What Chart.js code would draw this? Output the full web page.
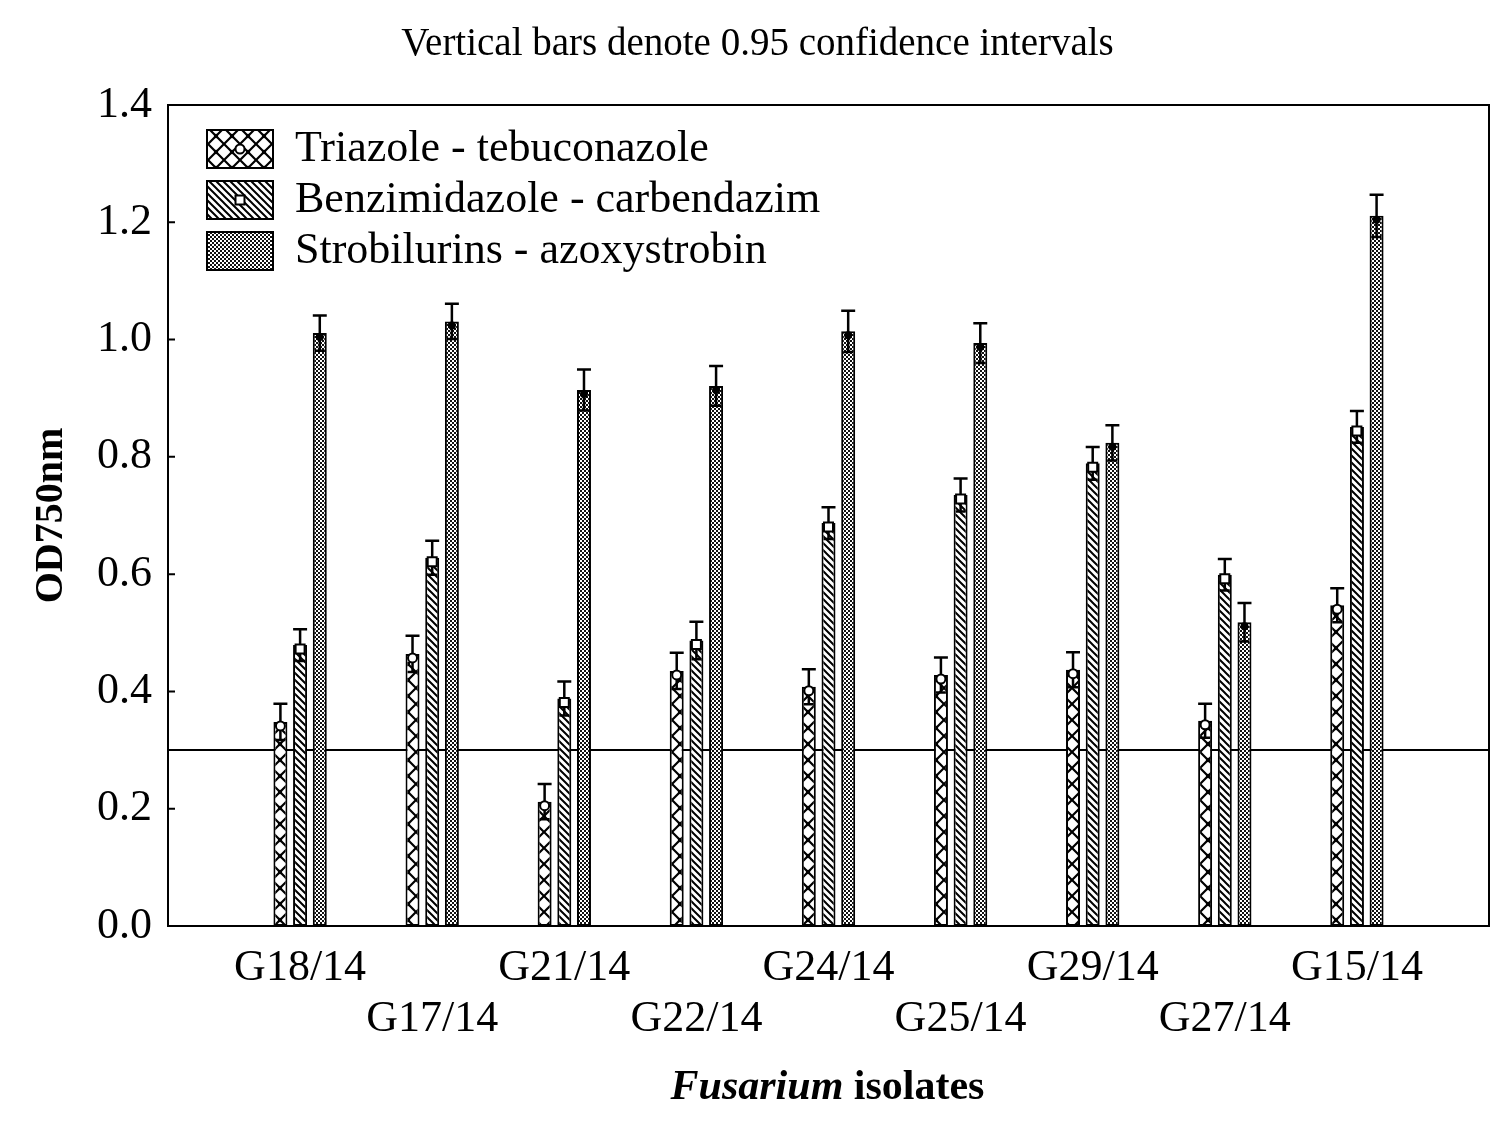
<!DOCTYPE html>
<html><head><meta charset="utf-8">
<script src="https://cdn.jsdelivr.net/npm/chart.js@4.4.0/dist/chart.umd.min.js"></script>
<style>html,body{margin:0;padding:0;background:#fff}#wrap{width:1500px;height:1132px;position:relative}</style>
</head><body><div id="wrap"><canvas id="c"></canvas></div>
<script>
const categories = ['G18/14','G17/14','G21/14','G22/14','G24/14','G25/14','G29/14','G27/14','G15/14'];
const seriesNames = ['Triazole - tebuconazole','Benzimidazole - carbendazim','Strobilurins - azoxystrobin'];
const triazole = [0.348,0.464,0.212,0.435,0.408,0.428,0.437,0.350,0.547];
const triazoleUpper = [0.379,0.495,0.242,0.466,0.438,0.458,0.467,0.379,0.576];
const benzimidazole = [0.479,0.628,0.388,0.487,0.687,0.735,0.789,0.599,0.851];
const benzimidazoleUpper = [0.506,0.657,0.417,0.519,0.714,0.763,0.817,0.626,0.878];
const strobilurins = [1.011,1.031,0.914,0.921,1.014,0.994,0.824,0.518,1.211];
const strobilurinsUpper = [1.041,1.061,0.949,0.955,1.049,1.028,0.854,0.551,1.247];
const yTicks = [0.0,0.2,0.4,0.6,0.8,1.0,1.2,1.4];
const threshold = 0.3;
const chartTitle = 'Vertical bars denote 0.95 confidence intervals';
const yTitle = 'OD750nm';
const xTitleItalic = 'Fusarium';
const xTitleRest = ' isolates';

const FONT = 'Liberation Serif';
const LEG = { dx: 39, dy: 24, box: 66, font: 44, pad: 7 };

function makePattern(size, draw) {
  const c = document.createElement('canvas');
  c.width = size; c.height = size;
  const g = c.getContext('2d');
  g.fillStyle = '#fff'; g.fillRect(0, 0, size, size);
  draw(g, size);
  return document.getElementById('c').getContext('2d').createPattern(c, 'repeat');
}
const patCross = makePattern(16, (g, s) => {
  g.strokeStyle = '#000'; g.lineWidth = 2.2;
  g.beginPath();
  g.moveTo(0, 0); g.lineTo(s, s);
  g.moveTo(s, 0); g.lineTo(0, s);
  g.stroke();
  g.fillStyle = '#000';
  g.beginPath(); g.arc(s / 2, s / 2, 2.2, 0, Math.PI * 2); g.fill();
});
const patDiag = makePattern(7, (g, s) => {
  g.strokeStyle = '#000'; g.lineWidth = 2;
  g.beginPath();
  g.moveTo(-1, -1); g.lineTo(s + 1, s + 1);
  g.moveTo(-1, s - 1); g.lineTo(1, s + 1);
  g.moveTo(s - 1, -1); g.lineTo(s + 1, 1);
  g.stroke();
});
const patDots = makePattern(4, (g, s) => {
  g.fillStyle = '#111'; g.fillRect(0, 0, s, s);
  g.fillStyle = '#fff';
  g.fillRect(0, 0, 2, 2); g.fillRect(2, 2, 2, 2);
});

const toXY = (arr) => categories.map((c, i) => ({ x: i, y: arr[i] }));

const datasets = [
  { label: seriesNames[0], data: toXY(triazole), upper: triazoleUpper, marker: 'circle', backgroundColor: patCross },
  { label: seriesNames[1], data: toXY(benzimidazole), upper: benzimidazoleUpper, marker: 'square', backgroundColor: patDiag },
  { label: seriesNames[2], data: toXY(strobilurins), upper: strobilurinsUpper, marker: 'cross', backgroundColor: patDots }
].map(d => Object.assign(d, {
  borderColor: '#000', borderWidth: 2, borderSkipped: false,
  categoryPercentage: 0.447, barPercentage: 0.71
}));

function drawMarker(ctx, type, x, y) {
  ctx.save();
  ctx.lineWidth = 2; ctx.strokeStyle = '#000'; ctx.fillStyle = '#fff';
  if (type === 'circle') {
    ctx.beginPath(); ctx.arc(x, y, 4.5, 0, Math.PI * 2); ctx.fill(); ctx.stroke();
  } else if (type === 'square') {
    ctx.beginPath(); ctx.rect(x - 4.5, y - 4.5, 9, 9); ctx.fill(); ctx.stroke();
  } else {
    ctx.fillStyle = '#000';
    ctx.beginPath(); ctx.arc(x, y, 4, 0, Math.PI * 2); ctx.fill();
  }
  ctx.restore();
}

const decorations = {
  id: 'decorations',
  afterLayout(chart) {
    const lg = chart.legend, ca = chart.chartArea;
    if (!lg) return;
    lg.left = ca.left + LEG.dx - LEG.pad; lg.top = ca.top + LEG.dy - LEG.pad - 2;
    lg.right = ca.right; lg.bottom = ca.bottom;
    lg.adjustHitBoxes();
  },
  beforeDatasetsDraw(chart) {
    const ctx = chart.ctx, ca = chart.chartArea, ys = chart.scales.y;
    const yy = ys.getPixelForValue(threshold);
    ctx.save();
    ctx.strokeStyle = '#000'; ctx.lineWidth = 2;
    ctx.beginPath(); ctx.moveTo(ca.left, yy); ctx.lineTo(ca.right, yy); ctx.stroke();
    ctx.restore();
  },
  afterDatasetsDraw(chart) {
    const ctx = chart.ctx, ys = chart.scales.y;
    chart.data.datasets.forEach((ds, di) => {
      const meta = chart.getDatasetMeta(di);
      meta.data.forEach((bar, i) => {
        const mean = ds.data[i].y, up = ds.upper[i], lo = 2 * mean - up;
        const x = bar.x, half = bar.width / 2;
        const yU = ys.getPixelForValue(up), yL = ys.getPixelForValue(lo), yM = ys.getPixelForValue(mean);
        ctx.save();
        ctx.strokeStyle = '#000'; ctx.lineWidth = 2.5;
        ctx.beginPath();
        ctx.moveTo(x, yU); ctx.lineTo(x, yL);
        ctx.moveTo(x - half, yU); ctx.lineTo(x + half, yU);
        ctx.moveTo(x - half + 2, yL); ctx.lineTo(x + half - 2, yL);
        ctx.stroke();
        ctx.restore();
        drawMarker(ctx, ds.marker, x, yM + 4);
      });
    });
  },
  afterDraw(chart) {
    const ctx = chart.ctx, ca = chart.chartArea, ys = chart.scales.y;
    ctx.save();
    ctx.strokeStyle = '#000'; ctx.lineWidth = 2;
    ctx.strokeRect(ca.left, ca.top, ca.right - ca.left, ca.bottom - ca.top);
    ctx.beginPath();
    ys.ticks.forEach(t => {
      const yy = ys.getPixelForValue(t.value);
      ctx.moveTo(ca.left, yy); ctx.lineTo(ca.left + 7, yy);
    });
    ctx.stroke();
    // legend markers inside the legend boxes
    chart.data.datasets.forEach((ds, i) => {
      if (ds.marker === 'circle' || ds.marker === 'square') {
        const bx = ca.left + LEG.dx + LEG.box / 2;
        const by = ca.top + LEG.dy - 2 + i * (LEG.font + LEG.pad) + LEG.font / 2;
        drawMarker(ctx, ds.marker, bx, by);
      }
    });
    // x axis title with italic genus name
    ctx.fillStyle = '#000';
    ctx.textBaseline = 'middle';
    ctx.textAlign = 'left';
    const fI = 'italic bold 42px "' + FONT + '"', fB = 'bold 42px "' + FONT + '"';
    ctx.font = fI; const w1 = ctx.measureText(xTitleItalic).width;
    ctx.font = fB; const w2 = ctx.measureText(xTitleRest).width;
    const cx = (ca.left + ca.right) / 2 - 1, x0 = cx - (w1 + w2) / 2, ty = 1088;
    ctx.font = fI; ctx.fillText(xTitleItalic, x0, ty);
    ctx.font = fB; ctx.fillText(xTitleRest, x0 + w1, ty);
    ctx.restore();
  }
};

new Chart(document.getElementById('c'), {
  type: 'bar',
  data: { datasets },
  options: {
    responsive: true,
    maintainAspectRatio: false,
    animation: false,
    layout: { padding: { top: 0, right: 11, bottom: 0, left: 26 } },
    plugins: {
      title: {
        display: true, text: chartTitle, color: '#000',
        font: { family: FONT, size: 39, weight: 'normal', lineHeight: 1.2 },
        padding: { top: 21, bottom: 37.2 }
      },
      legend: {
        display: true, position: 'chartArea', align: 'start',
        labels: {
          color: '#000', boxWidth: LEG.box, boxHeight: 38, padding: LEG.pad,
          font: { family: FONT, size: LEG.font }
        }
      },
      tooltip: { enabled: false }
    },
    scales: {
      x: {
        type: 'linear', min: -1, max: 9, offset: false,
        grid: { display: false, drawTicks: false, offset: false },
        border: { display: true, color: '#000', width: 2 },
        afterBuildTicks(axis) { axis.ticks = categories.map((c, i) => ({ value: i })); },
        afterFit(axis) { axis.height = 206; },
        ticks: {
          autoSkip: false, maxRotation: 0, minRotation: 0, padding: 16, color: '#000',
          font: { family: FONT, size: 44, lineHeight: 1.18 },
          callback(value) {
            const i = Math.round(value);
            const lab = categories[i];
            if (lab === undefined) return '';
            return i % 2 === 1 ? ['', lab] : lab;
          }
        }
      },
      y: {
        min: 0, max: 1.4,
        grid: { display: false, drawTicks: false },
        border: { display: true, color: '#000', width: 2 },
        afterBuildTicks(axis) { axis.ticks = yTicks.map(v => ({ value: v })); },
        afterFit(axis) { axis.width = 142; },
        ticks: {
          padding: 16, color: '#000',
          font: { family: FONT, size: 44 },
          callback(value) { return Number(value).toFixed(1); }
        },
        title: {
          display: true, text: yTitle, color: '#000',
          font: { family: FONT, size: 40, weight: 'bold', lineHeight: 1.2 },
          padding: { top: 2, bottom: 0 }
        }
      }
    }
  },
  plugins: [decorations]
});
</script>
</body></html>
